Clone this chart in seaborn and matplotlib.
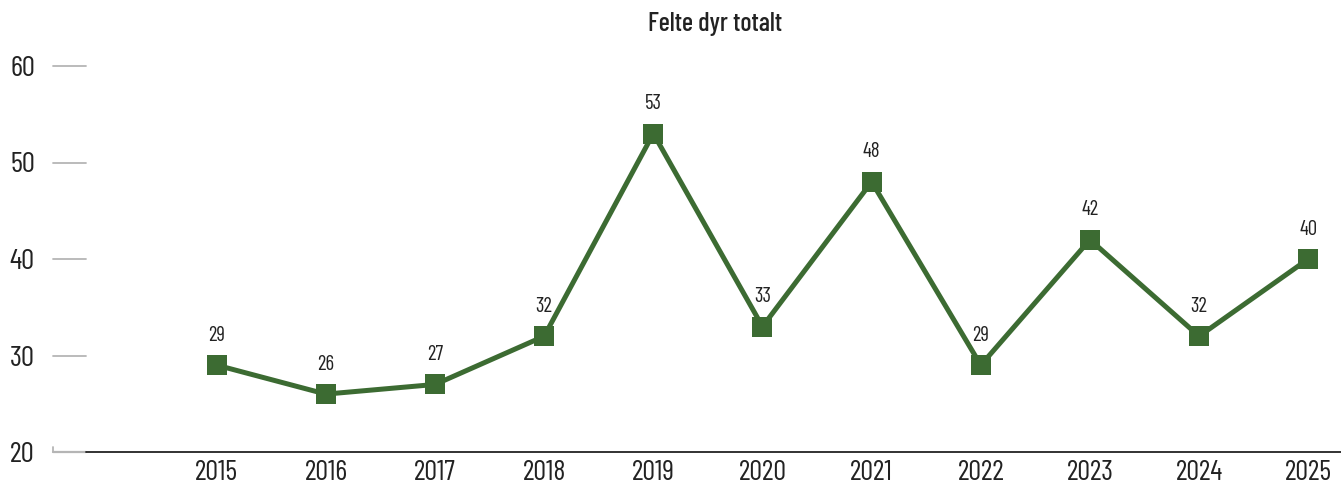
import pandas as pd
import matplotlib.pyplot as plt
import seaborn as sns

# data
years = ['2015', '2016', '2017', '2018', '2019', '2020', '2021', '2022', '2023', '2024', '2025']
felte = [29, 26, 27, 32, 53, 33, 48, 29, 42, 32, 40]
yticks = [20, 30, 40, 50, 60]

df = pd.DataFrame({'aar': years, 'felte': felte})
df['pos'] = range(len(df))

sns.set_style('white')
plt.rcParams['font.family'] = ['Barlow Condensed', 'Roboto Condensed', 'DejaVu Sans']

green = '#3c6b32'
txt = '#222222'
fig = plt.figure(figsize=(13.41, 4.88), dpi=100)
ax = fig.add_axes([53 / 1341, 36 / 488, 1 - 53 / 1341, 386 / 488])

sns.lineplot(data=df, x='pos', y='felte', ax=ax, color=green, linewidth=3.6,
             marker='s', markersize=15, markeredgewidth=0, markerfacecolor=green)

# value labels
for _, r in df.iterrows():
    ax.annotate(str(r['felte']), (r['pos'], r['felte']), xytext=(0, 21.5), textcoords='offset points',
                ha='center', va='center', fontsize=15, color=txt)

ax.set_xlim(-1.5, 10.3)
ax.set_ylim(20, 60)

# short grey stubs in place of gridlines
for y in yticks[1:]:
    ax.plot([-1.5, -1.2], [y, y], color='#b5b5b5', lw=1.3, clip_on=False)
ax.plot([-1.5, -1.2], [20, 20], color='#b5b5b5', lw=1.6, clip_on=False)
ax.plot([-1.5, -1.5], [20, 20.5], color='#b5b5b5', lw=1.3, clip_on=False)
ax.plot([-1.2, 10.3], [20, 20], color=txt, lw=1.3, clip_on=False)

for s in ax.spines.values():
    s.set_visible(False)

ax.set_xticks(df['pos'])
ax.set_xticklabels(years, fontsize=20.5, color=txt)
ax.set_yticks(yticks)
ax.set_yticklabels([str(v) for v in yticks], fontsize=21, color=txt)
ax.tick_params(axis='both', length=0)
ax.tick_params(axis='x', pad=6)
ax.tick_params(axis='y', pad=13)
ax.set_xlabel('')
ax.set_ylabel('')

ax.text(0.514, 1.11, 'Felte dyr totalt', transform=ax.transAxes, ha='center', va='center',
        fontsize=19, fontweight='medium', color=txt)

fig.savefig('out.png', dpi=100)
